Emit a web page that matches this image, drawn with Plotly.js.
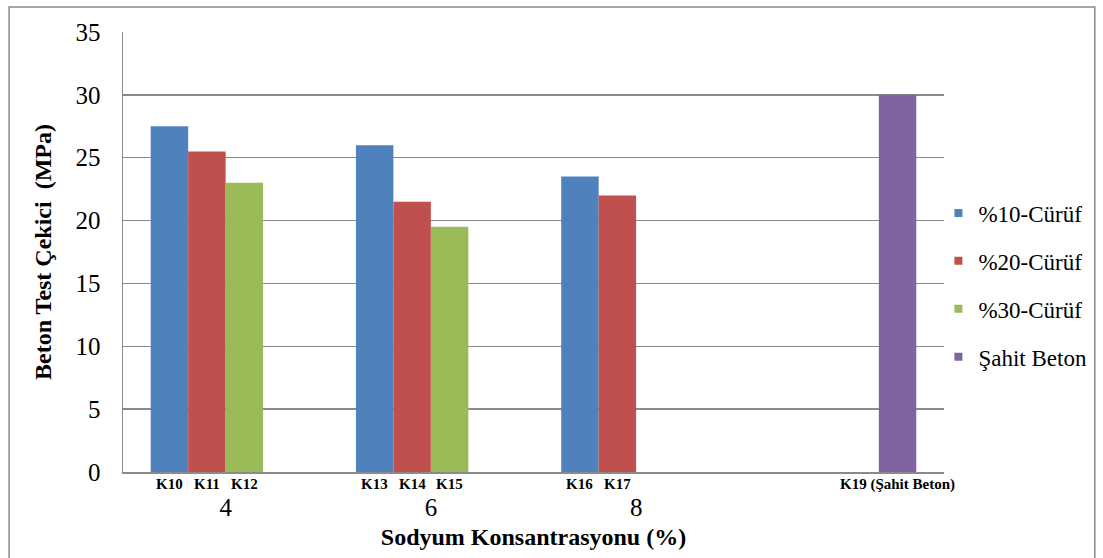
<!DOCTYPE html>
<html>
<head>
<meta charset="utf-8">
<script src="https://cdn.plot.ly/plotly-3.0.1.min.js"></script>
<style>
  html, body { margin: 0; padding: 0; background: #fff; }
  #chart { width: 1103px; height: 558px; }
</style>
</head>
<body>
<div id="chart"></div>
<script>
// Sodium concentration groups (last slot holds the reference concrete)
const groupLabels = ["4", "6", "8", ""];
const groupIndex = [0, 1, 2, 3];

// Tensile strength values (MPa) per slag ratio
const slag10 = [27.5, 26.0, 23.5, null];
const slag20 = [25.5, 21.5, 22.0, null];
const slag30 = [23.0, 19.5, null, null];
const reference = [null, null, null, 30.0];

// Sample codes under each bar, per series
const codes10 = ["K10", "K13", "K16", ""];
const codes20 = ["K11", "K14", "K17", ""];
const codes30 = ["K12", "K15", "", ""];
const codesRef = ["", "", "", "K19 (Şahit Beton)"];

const seriesNames = ["%10-Cürüf", "%20-Cürüf", "%30-Cürüf", "Şahit Beton"];
const seriesColors = ["#4F81BD", "#C0504D", "#9BBB59", "#8064A2"];
const seriesValues = [slag10, slag20, slag30, reference];
const seriesCodes = [codes10, codes20, codes30, codesRef];

const serif = "Liberation Serif, Times New Roman, serif";
const gridGray = "#8a8a8a";
const bargap = 0.27;
const nSeries = seriesValues.length;

const bars = seriesValues.map((vals, i) => ({
  type: "bar",
  name: seriesNames[i],
  x: groupIndex,
  y: vals,
  marker: { color: seriesColors[i], line: { width: 0 } },
  showlegend: false,
  hoverinfo: "name+y"
}));

// Legend entries with small square swatches
const keys = seriesNames.map((name, i) => ({
  type: "scatter",
  mode: "markers",
  name: name,
  x: [null],
  y: [null],
  marker: { symbol: "square", size: 8, color: seriesColors[i] },
  legendgroup: "g" + i,
  showlegend: true
}));

// Sample code labels centred beneath each bar slot
const slotWidth = (1 - bargap) / nSeries;
const annotations = [];
seriesCodes.forEach((codes, i) => {
  const offset = -(1 - bargap) / 2 + (i + 0.5) * slotWidth;
  codes.forEach((c, j) => {
    if (!c) return;
    annotations.push({
      xref: "x", yref: "paper",
      x: groupIndex[j] + offset, y: 0,
      yanchor: "top", yshift: -2,
      text: "<b>" + c + "</b>",
      showarrow: false,
      font: { family: serif, size: 15, color: "#000" }
    });
  });
});

const layout = {
  width: 1103,
  height: 558,
  margin: { l: 123, r: 158, t: 32, b: 86 },
  paper_bgcolor: "#fff",
  plot_bgcolor: "#fff",
  bargap: bargap,
  bargroupgap: 0,
  barmode: "group",
  font: { family: serif, color: "#000" },
  xaxis: {
    tickvals: groupIndex,
    ticktext: groupLabels,
    range: [-0.5, 3.5],
    showgrid: false,
    zeroline: false,
    showline: true,
    linecolor: gridGray,
    linewidth: 1.5,
    ticks: "",
    ticklabelstandoff: 12,
    tickfont: { family: serif, size: 25 },
    title: {
      text: "<b>Sodyum Konsantrasyonu (%)</b>",
      font: { family: serif, size: 24 },
      standoff: 8
    }
  },
  yaxis: {
    range: [0, 35],
    dtick: 5,
    showgrid: true,
    gridcolor: gridGray,
    gridwidth: 1.5,
    zeroline: false,
    showline: true,
    linecolor: gridGray,
    linewidth: 1.5,
    ticks: "",
    ticklabelstandoff: 16,
    tickfont: { family: serif, size: 25 },
    title: {
      text: "<b>Beton Test Çekici\u00a0 (MPa)</b>",
      font: { family: serif, size: 24 },
      standoff: 17
    }
  },
  legend: {
    x: 0.992, xanchor: "left",
    y: 0.425, yanchor: "middle",
    traceorder: "grouped",
    tracegroupgap: 15,
    font: { family: serif, size: 23, color: "#000" },
    bgcolor: "rgba(0,0,0,0)",
    itemwidth: 30
  },
  annotations: annotations,
  shapes: [{
    type: "rect",
    xref: "paper", yref: "paper",
    x0: -0.1387, x1: 1.1837,
    y0: -0.25, y1: 1.0568,
    line: { color: "#8a8a8a", width: 1.5 },
    fillcolor: "rgba(0,0,0,0)",
    layer: "above"
  }]
};

Plotly.newPlot("chart", bars.concat(keys), layout, { displayModeBar: false, staticPlot: true });
</script>
</body>
</html>
